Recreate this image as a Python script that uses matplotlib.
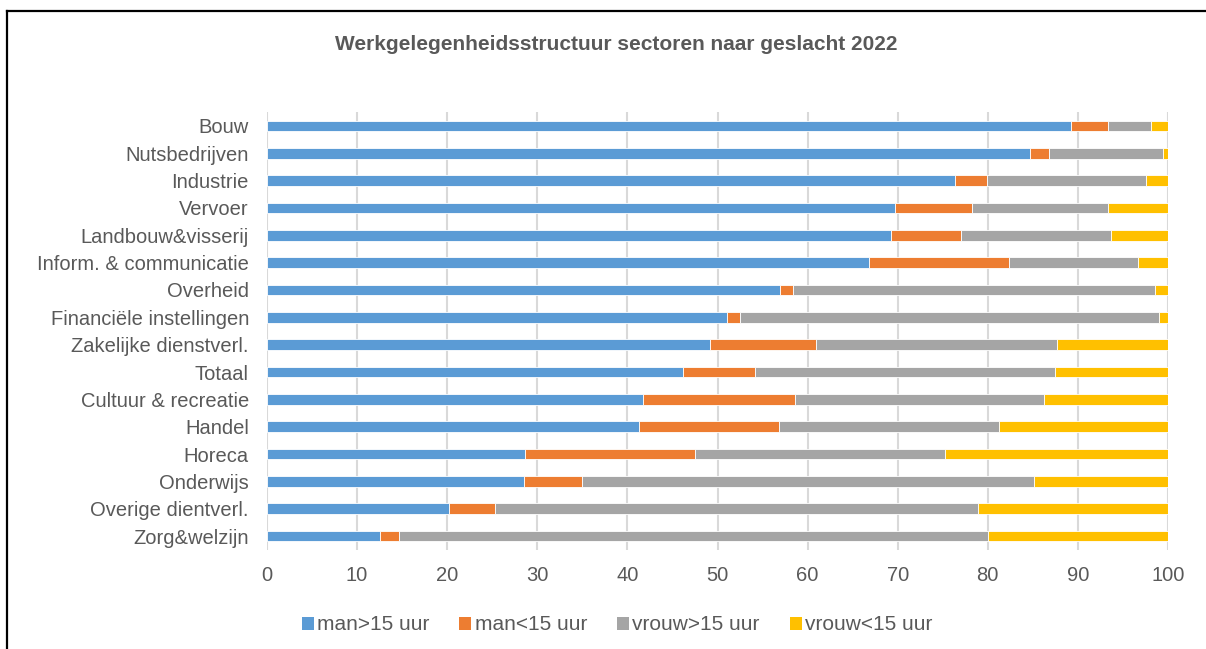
import matplotlib
matplotlib.use("Agg")
import matplotlib.pyplot as plt
from matplotlib.lines import Line2D
from matplotlib.patches import Patch

plt.rcParams['font.family'] = ['Liberation Sans', 'DejaVu Sans']

sectors = ["Bouw", "Nutsbedrijven", "Industrie", "Vervoer", "Landbouw&visserij",
           "Inform. & communicatie", "Overheid", "Financiële instellingen",
           "Zakelijke dienstverl.", "Totaal", "Cultuur & recreatie", "Handel",
           "Horeca", "Onderwijs", "Overige dientverl.", "Zorg&welzijn"]

man_gt15   = [89.2, 84.7, 76.4, 69.7, 69.3, 66.8, 56.9, 51.1, 49.2, 46.2, 41.7, 41.3, 28.6, 28.5, 20.2, 12.5]
man_lt15   = [4.1, 2.1, 3.5, 8.6, 7.7, 15.5, 1.5, 1.4, 11.7, 8.0, 16.9, 15.5, 18.9, 6.5, 5.1, 2.1]
vrouw_gt15 = [4.8, 12.7, 17.7, 15.0, 16.7, 14.4, 40.2, 46.5, 26.8, 33.3, 27.6, 24.4, 27.8, 50.1, 53.6, 65.4]
vrouw_lt15 = [1.9, 0.5, 2.4, 6.7, 6.3, 3.3, 1.4, 1.0, 12.3, 12.5, 13.8, 18.8, 24.7, 14.9, 21.1, 20.0]

series = [("man>15 uur", man_gt15, "#5B9BD5"),
          ("man<15 uur", man_lt15, "#ED7D31"),
          ("vrouw>15 uur", vrouw_gt15, "#A5A5A5"),
          ("vrouw<15 uur", vrouw_lt15, "#FFC000")]

txt = "#595959"

fig = plt.figure(figsize=(12.06, 6.49), dpi=100)
ax = fig.add_axes([267/1206, 1 - 549.7/649, 901/1206, 437.4/649])

ypos = list(range(len(sectors)))
left = [0.0] * len(sectors)
for name, vals, col in series:
    ax.barh(ypos, vals, left=left, height=0.4, color=col, edgecolor="white",
            linewidth=0.6, label=name, zorder=3)
    left = [l + v for l, v in zip(left, vals)]

ax.set_yticks(ypos)
ax.set_yticklabels(sectors)
ax.set_ylim(len(sectors) - 0.5, -0.5)
ax.set_xlim(0, 100)
ax.set_xticks(range(0, 101, 10))
ax.grid(axis="x", color="#D9D9D9", linewidth=1.5, zorder=0)
for s in ax.spines.values():
    s.set_visible(False)
ax.tick_params(axis="both", length=0, labelsize=14.5, labelcolor=txt)
ax.tick_params(axis="y", pad=13)
ax.tick_params(axis="x", pad=12)

fig.text(616/1206, 1 - 44/649, "Werkgelegenheidsstructuur sectoren naar geslacht 2022",
         ha="center", va="center", fontsize=15, fontweight="bold", color=txt)

handles = [Patch(facecolor=c, edgecolor="none") for _, _, c in series]
fig.legend(handles, [n for n, _, _ in series], loc="center",
           bbox_to_anchor=(617/1206, 1 - 625/649), ncol=4, frameon=False,
           fontsize=15, labelcolor=txt, handlelength=0.58, handleheight=0.58,
           handletextpad=0.15, columnspacing=1.45)

# chart border (top and left visible)
fig.add_artist(Line2D([6.5/1206, 6.5/1206], [0, 1 - 11/649], color="black", lw=1.6,
                      transform=fig.transFigure))
fig.add_artist(Line2D([6.5/1206, 1], [1 - 11/649, 1 - 11/649], color="black", lw=1.6,
                      transform=fig.transFigure))

fig.savefig("out.png", dpi=100)
